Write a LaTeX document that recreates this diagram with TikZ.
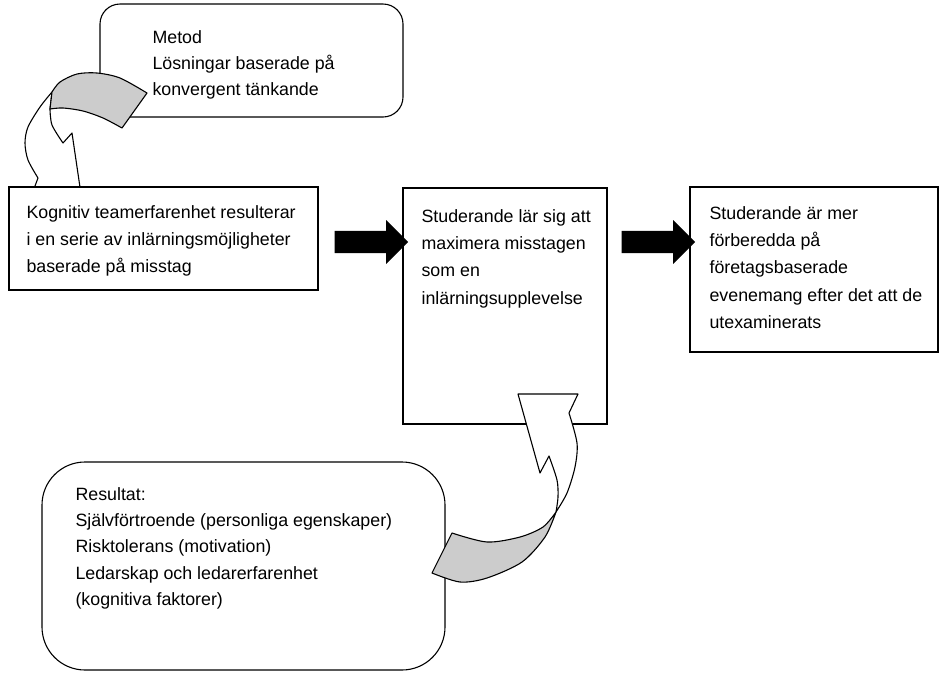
\documentclass[tikz,border=0pt]{standalone}
\usepackage{fontspec}
\setmainfont{Liberation Sans}
\usetikzlibrary{shapes.arrows}

\begin{document}
\begin{tikzpicture}[x=1pt,y=-1pt,line width=1.1pt,
    box/.style={draw,fill=white,rectangle,inner sep=0pt},
    txt/.style={anchor=north west,align=left,inner sep=0pt,font=\fontsize{17.8}{27.2}\selectfont},
    blk/.style={single arrow,draw,fill=black,inner sep=0pt,text height=10pt,text depth=10pt,minimum height=72pt,minimum width=40pt,single arrow head extend=10pt},
    ribbon/.style={draw,fill=white,line join=round},
    shade/.style={draw,fill=black!20,line join=round}]
  \useasboundingbox (0,0) rectangle (951,673);

  % method box with the bent arrow down to the first box
  \node[box,rounded corners=20pt,minimum width=303pt,minimum height=113pt] (metod) at (251.5,60.5) {};
  \node[txt,font=\fontsize{17.8}{26.2}\selectfont] (metodtxt) at (152,30) {Metod\\Lösningar baserade på\\konvergent tänkande};
  \draw[ribbon] plot[smooth] coordinates {(52,92) (40,107) (28,127) (25,143) (28,160) (38,178)}
    -- (32,194) -- (81,194) -- (72,133) -- (63,143)
    -- plot[smooth] coordinates {(63,143) (52,125) (50,109)} -- cycle;
  \draw[shade] plot[smooth] coordinates {(52,92) (60,82) (77,74) (97,73) (120,78) (147,93)}
    -- (122,128) -- plot[smooth] coordinates {(122,128) (103,118) (83,111) (63,108) (50,109)} -- cycle;

  \node[box,minimum width=309pt,minimum height=103pt] (kogn) at (163.5,238.5) {};
  \node[txt] (kogntxt) at (26,205) {Kognitiv teamerfarenhet resulterar\\i en serie av inlärningsmöjligheter\\baserade på misstag};

  % results box
  \node[box,rounded corners=43pt,minimum width=403pt,minimum height=208pt] (res) at (243.5,566) {};
  \node[txt,font=\fontsize{17.8}{26.2}\selectfont] (restxt) at (75,487) {Resultat:\\Självförtroende (personliga egenskaper)\\Risktolerans (motivation)\\Ledarskap och ledarerfarenhet\\(kognitiva faktorer)};

  \node[box,minimum width=204pt,minimum height=236pt] (stud) at (505,306) {};
  \node[txt] (studtxt) at (421,209) {Studerande lär sig att\\maximera misstagen\\som en\\inlärningsupplevelse};

  \node[box,minimum width=248pt,minimum height=165pt] (forb) at (814,269.5) {};
  \node[txt] (forbtxt) at (709,206) {Studerande är mer\\förberedda på\\företagsbaserade\\evenemang efter det att de\\utexaminerats};

  % block arrows
  \node[blk] (pil1) at (366,242) {};
  \node[blk] (pil2) at (653,242) {};

  % bent arrow from the results up into the middle box
  \draw[ribbon] plot[smooth] coordinates {(556,512) (558,497) (557,480) (549,456)}
    -- (540,473) -- (518,394) -- (578,394) -- (569,413)
    -- plot[smooth] coordinates {(569,413) (577,443) (575,467) (567,493) (556,512)} -- cycle;
  \draw[shade] plot[smooth] coordinates {(556,512) (545,537) (522,562) (487,578) (460,582) (432,573)}
    -- (452,533) -- plot[smooth] coordinates {(452,533) (487,542) (520,537) (543,527) (556,512)} -- cycle;
\end{tikzpicture}
\end{document}
